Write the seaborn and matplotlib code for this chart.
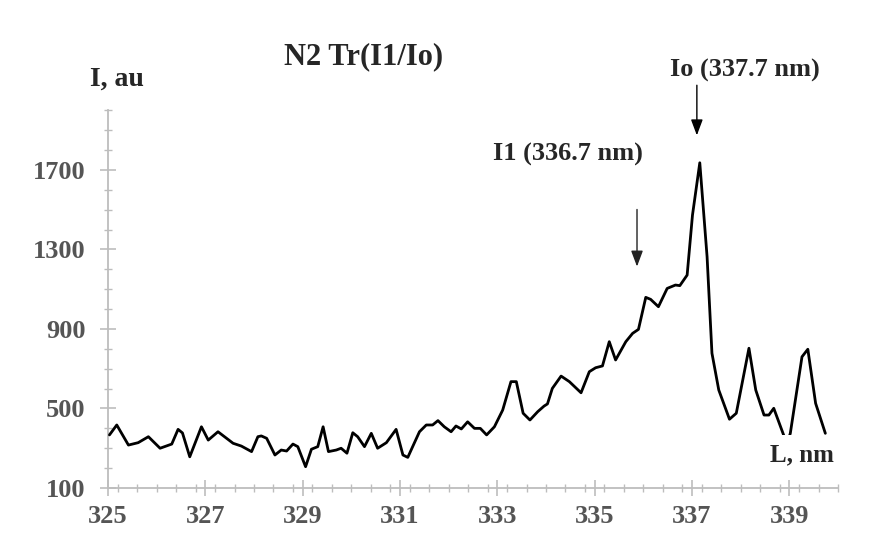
import matplotlib
matplotlib.use("Agg")
import matplotlib.pyplot as plt
import seaborn as sns
import pandas as pd
from matplotlib.ticker import MultipleLocator

wavelength = [325.03, 325.18, 325.42, 325.62, 325.83, 326.07, 326.31, 326.44, 326.53, 326.68,
              326.92, 327.06, 327.26, 327.57, 327.74, 327.95, 328.08, 328.15, 328.26, 328.43,
              328.56, 328.67, 328.80, 328.90, 329.06, 329.18, 329.31, 329.42, 329.53, 329.69,
              329.79, 329.91, 330.03, 330.13, 330.27, 330.41, 330.54, 330.72, 330.92, 331.06,
              331.16, 331.26, 331.40, 331.54, 331.67, 331.78, 331.91, 332.05, 332.15, 332.26,
              332.39, 332.53, 332.65, 332.78, 332.94, 333.11, 333.28, 333.39, 333.53, 333.67,
              333.83, 333.96, 334.03, 334.13, 334.31, 334.48, 334.72, 334.89, 335.02, 335.16,
              335.30, 335.43, 335.64, 335.78, 335.90, 336.05, 336.15, 336.31, 336.49, 336.66,
              336.75, 336.90, 337.01, 337.16, 337.31, 337.41, 337.55, 337.77, 337.91, 338.17,
              338.31, 338.48, 338.58, 338.68, 338.87, 338.95, 339.02, 339.26, 339.38, 339.54,
              339.74]
intensity = [367, 417, 316, 328, 358, 300, 321, 395, 377, 257,
             408, 341, 383, 325, 311, 283, 358, 362, 350, 266,
             291, 286, 321, 308, 207, 295, 308, 408, 283, 291,
             300, 275, 378, 358, 308, 375, 300, 328, 395, 266,
             254, 308, 383, 417, 417, 439, 408, 383, 412, 397,
             433, 400, 400, 367, 408, 492, 635, 635, 476, 442,
             484, 512, 523, 601, 663, 635, 579, 685, 705, 714,
             836, 744, 836, 878, 898, 1059, 1049, 1012, 1104, 1121,
             1118, 1171, 1473, 1736, 1263, 778, 593, 446, 476, 803,
             593, 467, 467, 501, 375, 320, 375, 760, 798, 526,
             375]

x_ticks = [325, 327, 329, 331, 333, 335, 337, 339]
y_ticks = [100, 500, 900, 1300, 1700]

title = "N2 Tr(I1/Io)"
y_label = "I, au"
x_label = "L, nm"
peak_io = "Io (337.7 nm)"
peak_i1 = "I1 (336.7 nm)"

sns.set_theme(style="white")
plt.rcParams['font.family'] = ['Liberation Serif', 'DejaVu Serif']

df = pd.DataFrame({"L": wavelength, "I": intensity})

fig = plt.figure(figsize=(8.78, 5.42), dpi=100)
ax = fig.add_axes([108/878, 1-488/542, (838-108)/878, (488-110.3)/542])

sns.lineplot(data=df, x="L", y="I", ax=ax, color="black", linewidth=2.0, zorder=3)

ax.set_xlim(325, 340)
ax.set_ylim(100, 2000)
ax.set_xticks(x_ticks)
ax.set_yticks(y_ticks)
ax.xaxis.set_minor_locator(MultipleLocator(0.4))
ax.yaxis.set_minor_locator(MultipleLocator(100))
ax.set_xlabel("")
ax.set_ylabel("")

gray = "#bdbdbd"
for side in ["top", "right"]:
    ax.spines[side].set_visible(False)
for side in ["left", "bottom"]:
    ax.spines[side].set_visible(True)
    ax.spines[side].set_color(gray)
    ax.spines[side].set_linewidth(1.3)

ax.tick_params(which="major", direction="inout", length=12, width=1.2, color=gray,
               labelsize=19, labelcolor="#555555")
ax.tick_params(axis="y", which="major", pad=10)
ax.tick_params(axis="x", which="major", pad=6)
ax.tick_params(which="minor", direction="inout", length=6, width=1.0, color=gray)
ax.tick_params(axis="both", which="both", bottom=True, left=True)
for lab in ax.get_xticklabels() + ax.get_yticklabels():
    lab.set_fontweight("bold")

fig.text(364/878, 1-57/542, title, ha="center", va="center", fontsize=22, fontweight="bold")
fig.text(90/878, 1-79/542, y_label, ha="left", va="center", fontsize=20, fontweight="bold")
fig.text(745/878, 1-70/542, peak_io, ha="center", va="center", fontsize=19, fontweight="bold")
fig.text(568/878, 1-154/542, peak_i1, ha="center", va="center", fontsize=19, fontweight="bold")
ax.text(339.25, 268, x_label, ha="center", va="center", fontsize=18,
        fontweight="bold", zorder=5,
        bbox=dict(facecolor="white", edgecolor="none", pad=6))

ax.annotate("", xy=(337.10, 1860), xytext=(337.10, 2140), annotation_clip=False,
            arrowprops=dict(arrowstyle="-|>,head_width=0.3,head_length=0.8",
                            color="black", lw=1.0))
ax.annotate("", xy=(335.87, 1200), xytext=(335.87, 1515), annotation_clip=False,
            arrowprops=dict(arrowstyle="-|>,head_width=0.3,head_length=0.8",
                            color="#222222", lw=1.0))

fig.savefig("out.png", dpi=100, facecolor="white")
